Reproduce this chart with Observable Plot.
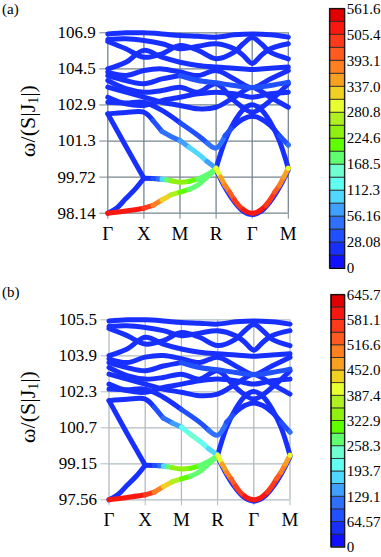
<!DOCTYPE html>
<html><head><meta charset="utf-8">
<script src="https://cdn.jsdelivr.net/npm/d3@7"></script>
<script src="https://cdn.jsdelivr.net/npm/@observablehq/plot@0.6"></script>
<style>
html,body{margin:0;padding:0;background:#fff;}
body{width:381px;height:557px;position:relative;overflow:hidden;font-family:"Liberation Serif","Times New Roman",serif;color:#000;}
.abs{position:absolute;}
svg{overflow:visible;}
.panelA [aria-label*="axis"] line,.panelA [aria-label*="axis"] path{stroke:#76868d;}
.panelB [aria-label*="axis"] line,.panelB [aria-label*="axis"] path{stroke:#b2bbbf;}
.panelA [aria-label^="x-axis"] text,.panelB [aria-label^="x-axis"] text{font-size:19px;}
.ylab{position:absolute;white-space:nowrap;font-size:22px;transform:translate(-50%,-50%) rotate(-90deg);}
.ylab sub{font-size:14px;vertical-align:-3px;}
.plab{position:absolute;font-size:15px;left:2px;}
</style></head>
<body>
<div id="root"></div>
<script>
// ---- shared ----
const kTicks = [0, 1, 2, 3, 4, 5];
const kLabels = ["Γ", "X", "M", "R", "Γ", "M"];
const palette = ["#1010ff","#1830ff","#2050ff","#3070ff","#40a0ff","#50d8ff","#60fff0","#70ffd0","#60ff70","#60ff00",
                 "#90f010","#b0f020","#e8ff30","#f0d020","#f8a020","#ff8020","#ff5a20","#ff3a1a","#f81810","#e00000"];

// k-path sample positions (Γ=0, X=1, M=2, R=3, Γ=4, M=5)
const kk = [0,0.5,1,1.5,2,2.5,3,3.5,4,4.5,5];
const kLens = [0,0.5,1,1.5,2,2.5,3,3.5,3.75,4,4.25,4.5,5];
const kLb = [0,0.5,1,1.5,2,2.5,2.75,3,3.25,3.5,3.75,4,4.25,4.5,4.75,5];
const kCy = [0,0.5,1,1.25,1.5,1.75,2,2.25,2.5,2.75,3];
const kGX = [0,0.5,1];
const kAc = [0,0.25,0.5,0.75,1];
const kXM = [1,1.25,1.4,1.5,1.625,1.75,2,2.25,2.5,2.75,3];
const kRed = [0,0.5,1,1.25,1.5,1.75,2,2.25,2.5,2.75,3];
const kP = [3,3.25,3.5,3.75,4,4.25,4.5,4.75,5];
const kPar = [3,3.125,3.25,3.375,3.5,3.625,3.75,3.875,4,4.125,4.25,4.375,4.5,4.625,4.75,4.875,5];

// ---- panel (a) ----
const yTicksA = [98.14, 99.72, 101.30, 102.88, 104.46, 106.04];
const yLabelsA = ["98.14", "99.72", "101.3", "102.9", "104.5", "106.9"];
const maxA = 561.6;
const cbarLabelsA = ["0","28.08","56.16","112.3","168.5","224.6","280.8","337.0","393.1","505.4","561.6"];
const a_top = [105.99,106.04,106.04,105.99,105.92,105.89,105.85,105.95,105.99,105.95,105.85];
const a_t2  = [105.75,105.78,105.70,105.56,105.34,105.45,105.56,105.34,105.05,104.70,105.05,105.34,105.56];
const a_t3  = [105.66,105.34,104.97,105.12,105.48,105.27,104.90,105.19,105.56,105.83,105.56,105.19,104.90];
const a_t4  = [104.46,104.75,105.27,104.97,104.75,104.61,104.54,104.49,104.43,104.49,104.54];
const a_t5  = [104.32,104.17,104.39,104.46,104.32,104.17,104.39,104.02,103.64,104.02,104.39];
const a_lb2 = [104.17,103.95,103.81,104.02,104.17,103.95,103.85,103.73,103.64,103.73,103.88];
const a_lb2I = [40,40,40,50,60,70,70,70,60,70,80];
const a_t7  = [103.95,103.59,103.44,103.51,103.66,103.44,103.81,103.07,102.56,103.07,103.81];
const a_t8  = [103.66,103.44,103.22,103.00,102.86,102.71,102.78,103.22,103.64,103.22,102.78];
const a_t9  = [103.22,102.93,102.86,103.07,103.22,103.37,103.44,103.37,103.22,103.37,103.44];
const a_lb  = [103.00,102.97,103.00,102.64,102.10,101.54,101.22,100.99,101.54,101.98,102.27,102.39,102.27,101.98,101.54,101.13];
const a_lbI = [40,40,40,50,70,80,90,90,60,40,40,40,40,40,60,90];
const a_cyan = [102.49,102.55,102.56,102.20,101.72,101.50,101.32,101.03,100.74,100.40,100.11];
const a_cyanI = [40,40,50,70,85,110,140,165,160,130,95];
const a_gx = [102.49,101.07,99.67];
const a_ac = [98.14,98.37,98.78,99.18,99.67];
const a_xm = [99.67,99.66,99.64,99.63,99.60,99.56,99.50,99.53,99.64,99.83,100.08];
const a_xmI = [40,60,110,160,230,290,290,270,250,250,300];
const a_red = [98.14,98.24,98.36,98.48,98.72,98.94,99.06,99.18,99.38,99.72,100.08];
const a_redI = [520,510,490,440,390,330,270,250,240,250,300];
const a_p1 = [100.11,101.32,102.13,102.68,102.89,102.68,102.13,101.32,100.11];
const a_pb = [100.05,99.26,98.65,98.23,98.08,98.23,98.65,99.26,100.05];
const a_par = [100.11,99.72,99.35,99.06,98.74,98.48,98.30,98.18,98.14,98.18,98.30,98.48,98.74,99.06,99.35,99.72,100.11];
const a_parI = [340,400,440,470,490,505,515,520,525,520,515,505,490,470,440,400,340];

// ---- panel (b) ----
const yTicksB = [97.56, 99.15, 100.74, 102.33, 103.92, 105.51];
const yLabelsB = ["97.56", "99.15", "100.7", "102.3", "103.9", "105.5"];
const maxB = 645.7;
const cbarLabelsB = ["0","64.57","129.1","193.7","258.3","322.9","387.4","452.0","516.6","581.1","645.7"];
const b_top = [105.46,105.51,105.51,105.46,105.39,105.36,105.32,105.42,105.46,105.42,105.32];
const b_t2  = [105.22,105.25,105.17,105.03,104.81,104.92,105.03,104.81,104.52,104.17,104.52,104.81,105.03];
const b_t3  = [105.13,104.81,104.44,104.59,104.95,104.74,104.37,104.66,105.03,105.30,105.03,104.66,104.37];
const b_t4  = [103.93,104.22,104.74,104.44,104.22,104.08,104.01,103.96,103.90,103.96,104.01];
const b_t5  = [103.79,103.62,103.86,103.93,103.79,103.62,103.86,103.47,103.09,103.47,103.86];
const b_lb2 = [103.62,103.40,103.26,103.47,103.62,103.40,103.30,103.18,103.09,103.18,103.33];
const b_lb2I = [46,46,46,58,69,80,80,80,69,80,92];
const b_t7  = [103.40,103.04,102.89,102.96,103.11,102.89,103.26,102.52,102.01,102.52,103.26];
const b_t8  = [103.11,102.89,102.67,102.45,102.31,102.16,102.23,102.67,103.09,102.67,102.23];
const b_t9  = [102.67,102.38,102.31,102.52,102.67,102.82,102.89,102.82,102.67,102.82,102.89];
const b_lb  = [102.45,102.42,102.45,102.09,101.55,100.99,100.64,100.41,100.99,101.43,101.72,101.84,101.72,101.43,100.99,100.55];
const b_lbI = [46,46,46,58,80,92,104,104,69,46,46,46,46,46,69,104];
const b_cyan = [101.94,102.00,102.01,101.65,101.17,100.95,100.77,100.45,100.16,99.82,99.53];
const b_cyanI = [46,46,58,80,110,150,200,235,220,170,120];
const b_gx = [101.94,100.49,99.09];
const b_ac = [97.56,97.79,98.20,98.60,99.09];
const b_xm = [99.09,99.08,99.06,99.05,99.02,98.98,98.92,98.95,99.06,99.25,99.50];
const b_xmI = [46,69,127,184,265,334,334,311,288,288,345];
const b_red = [97.56,97.66,97.78,97.90,98.14,98.36,98.48,98.60,98.80,99.14,99.50];
const b_redI = [598,587,564,506,449,380,311,288,276,288,345];
const b_p1 = [99.53,100.77,101.58,102.13,102.34,102.13,101.58,100.77,99.53];
const b_pb = [99.47,98.68,98.07,97.65,97.50,97.65,98.07,98.68,99.47];
const b_par = [99.53,99.14,98.77,98.48,98.16,97.90,97.72,97.60,97.56,97.60,97.72,97.90,98.16,98.48,98.77,99.14,99.53];
const b_parI = [391,460,506,540,563,578,590,598,604,598,590,578,563,540,506,460,391];

// ---- helpers ----
function band(ks, es, is) {
  return ks.map((k, j) => ({k, E: es[j], I: Array.isArray(is) ? is[j] : is}));
}
function rowsOf(bands) {
  return bands.flatMap((b, i) => b.map(p => ({...p, band: i})));
}
function colorScale(max) {
  return {type: "threshold", domain: d3.range(1, 20).map(i => i * max / 20), range: palette};
}
function labelFor(ticks, labels) {
  return d => { const i = ticks.findIndex(t => Math.abs(t - d) < 1e-6); return i < 0 ? "" : labels[i]; };
}

function panel(cls, blue, colored, yTicks, yLabels, max, geom) {
  const svg = Plot.plot({
    width: 381, height: geom.height,
    marginLeft: geom.left, marginRight: geom.right, marginTop: geom.top, marginBottom: geom.bottom,
    style: {fontFamily: "Liberation Serif, serif", fontSize: "17px", color: "#000", background: "transparent", overflow: "visible"},
    x: {domain: [0, 5], ticks: kTicks, tickFormat: labelFor(kTicks, kLabels), tickSize: 6, tickPadding: 7, label: null},
    y: {domain: [yTicks[0], yTicks[5]], ticks: yTicks, tickFormat: labelFor(yTicks, yLabels), tickSize: 8, tickPadding: 4, label: null},
    color: colorScale(max),
    marks: [
      Plot.ruleX(kTicks, {stroke: geom.grid, strokeWidth: 1.3}),
      Plot.ruleY(yTicks, {stroke: geom.grid, strokeWidth: 1.3}),
      Plot.line(rowsOf(blue), {x: "k", y: "E", z: "band", stroke: "I", strokeWidth: 5, strokeLinecap: "round", strokeLinejoin: "round", curve: "catmull-rom"}),
      Plot.line(rowsOf(colored), {x: "k", y: "E", z: "band", stroke: "I", strokeWidth: 5, strokeLinecap: "round", strokeLinejoin: "round", curve: "catmull-rom"})
    ]
  });
  const div = document.createElement("div");
  div.className = "abs " + cls;
  div.style.left = "0px"; div.style.top = geom.y + "px";
  div.appendChild(svg);
  return div;
}

function colorbar(max, labels, geom) {
  const bins = d3.range(20).map(i => ({lo: i * max / 20, hi: (i + 1) * max / 20}));
  const ticks = d3.range(11).map(i => i * max / 10);
  const svg = Plot.plot({
    width: geom.width, height: geom.height,
    marginLeft: geom.left, marginRight: geom.width - geom.left - geom.barW, marginTop: geom.top, marginBottom: geom.bottom,
    style: {fontFamily: "Liberation Serif, serif", fontSize: "15px", color: "#000", background: "transparent", overflow: "visible"},
    x: {domain: [0, 1], axis: null},
    y: {domain: [0, max], axis: "right", ticks, tickFormat: labelFor(ticks, labels), tickSize: 0, tickPadding: 2, label: null},
    color: colorScale(max),
    marks: [
      Plot.rect(bins, {x1: 0, x2: 1, y1: "lo", y2: "hi", fill: d => (d.lo + d.hi) / 2, stroke: "#2a2a2a", strokeWidth: 0.8}),
      Plot.frame({stroke: "#000", strokeWidth: 1})
    ]
  });
  const div = document.createElement("div");
  div.className = "abs";
  div.style.left = geom.x + "px"; div.style.top = geom.y + "px";
  div.appendChild(svg);
  return div;
}

const root = document.getElementById("root");

const blueA = [
  band(kk, a_top, 40), band(kLens, a_t2, 40), band(kLens, a_t3, 40), band(kk, a_t4, 40), band(kk, a_t5, 40),
  band(kk, a_t7, 40), band(kk, a_t8, 40), band(kk, a_t9, 40), band(kP, a_p1, 40), band(kGX, a_gx, 40),
  band(kAc, a_ac, 40), band(kP, a_pb, 40)
];
const colA = [
  band(kk, a_lb2, a_lb2I), band(kLb, a_lb, a_lbI), band(kCy, a_cyan, a_cyanI),
  band(kXM, a_xm, a_xmI), band(kRed, a_red, a_redI), band(kPar, a_par, a_parI)
];
const blueB = [
  band(kk, b_top, 46), band(kLens, b_t2, 46), band(kLens, b_t3, 46), band(kk, b_t4, 46), band(kk, b_t5, 46),
  band(kk, b_t7, 46), band(kk, b_t8, 46), band(kk, b_t9, 46), band(kP, b_p1, 46), band(kGX, b_gx, 46),
  band(kAc, b_ac, 46), band(kP, b_pb, 46)
];
const colB = [
  band(kk, b_lb2, b_lb2I), band(kLb, b_lb, b_lbI), band(kCy, b_cyan, b_cyanI),
  band(kXM, b_xm, b_xmI), band(kRed, b_red, b_redI), band(kPar, b_par, b_parI)
];

root.appendChild(panel("panelA", blueA, colA, yTicksA, yLabelsA, maxA,
  {y: 0, height: 248, left: 107.3, right: 381 - 287.8, top: 32.3, bottom: 248 - 212.7, grid: "#76868d"}));
root.appendChild(panel("panelB", blueB, colB, yTicksB, yLabelsB, maxB,
  {y: 287, height: 248, left: 108.5, right: 381 - 289.5, top: 32.3, bottom: 248 - 212.3, grid: "#b2bbbf"}));
root.appendChild(colorbar(maxA, cbarLabelsA, {x: 321, y: 0, width: 60, height: 276, left: 8.3, barW: 15, top: 8.3, bottom: 8}));
root.appendChild(colorbar(maxB, cbarLabelsB, {x: 322, y: 286, width: 59, height: 268.7, left: 8.7, barW: 13.6, top: 8.3, bottom: 8}));

function addText(cls, html, left, top) {
  const d = document.createElement("div");
  d.className = cls; d.innerHTML = html;
  d.style.left = left + "px"; d.style.top = top + "px";
  root.appendChild(d);
}
addText("plab", "(a)", 2, 1);
addText("plab", "(b)", 2, 284);
addText("ylab", "ω/(S|J<sub>1</sub>|)", 28, 121);
addText("ylab", "ω/(S|J<sub>1</sub>|)", 28, 407);
</script>
</body></html>
